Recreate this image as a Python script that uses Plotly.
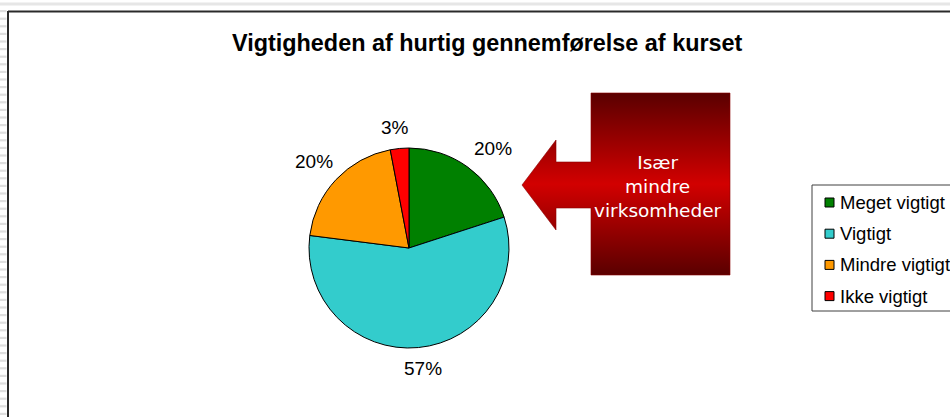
import math
import plotly.graph_objects as go

# ---- data ----
categories = ["Meget vigtigt", "Vigtigt", "Mindre vigtigt", "Ikke vigtigt"]
values = [20, 57, 20, 3]
colors = ["#008000", "#33CCCC", "#FF9900", "#FF0000"]
title_text = "Vigtigheden af hurtig gennemførelse af kurset"
callout_lines = ["Især", "mindre", "virksomheder"]

# ---- geometry (pixels) ----
W, H = 950, 417
CX, CY, R = 409, 248, 100

fig = go.Figure()

# callout arrow (decorative shape with vertical gradient)
arrow_x = [591, 730, 730, 591, 591, 556, 556, 522, 556, 556, 591, 591]
arrow_y = [93, 93, 275, 275, 208, 208, 230, 185, 140, 162, 162, 93]
fig.add_trace(go.Scatter(
    x=arrow_x, y=arrow_y, mode="lines", fill="toself",
    line=dict(color="#8a0000", width=0.6),
    fillgradient=dict(type="vertical",
                      colorscale=[[0, "#5a0000"], [0.5, "#d20000"], [1, "#5a0000"]]),
    hoverinfo="skip", showlegend=False))

# pie
fig.add_trace(go.Pie(
    labels=categories, values=values, sort=False, direction="clockwise", rotation=0,
    marker=dict(colors=colors, line=dict(color="black", width=1)),
    textinfo="none", showlegend=False, hoverinfo="label+percent",
    domain=dict(x=[(CX - R) / W, (CX + R) / W], y=[1 - (CY + R) / H, 1 - (CY - R) / H])))

annotations = []
shapes = []

# percentage labels outside slices
total = sum(values)
cum = 0
for v in values:
    mid = (cum + v / 2) / total * 2 * math.pi
    cum += v
    s, c = math.sin(mid), math.cos(mid)
    rr = R + 8
    px, py = CX + rr * s, CY - rr * c
    xa = "left" if s > 0.3 else ("right" if s < -0.3 else "center")
    ya = "bottom" if c > 0.3 else ("top" if c < -0.3 else "middle")
    if xa == "center":
        px += s * 40
    elif xa == "right":
        px += 5
    annotations.append(dict(x=px, y=py, xref="x", yref="y", text=f"{round(v / total * 100)}%",
                            showarrow=False, xanchor=xa, yanchor=ya,
                            font=dict(family="Liberation Sans, Arial", size=19, color="black")))

# title
annotations.append(dict(x=487, y=43, xref="x", yref="y", text=f"<b>{title_text}</b>",
                        showarrow=False, xanchor="center", yanchor="middle",
                        font=dict(family="Liberation Sans, Arial", size=23.4, color="black")))

# callout text
annotations.append(dict(x=658, y=186, xref="x", yref="y", text="<br>".join(callout_lines),
                        showarrow=False, xanchor="center", yanchor="middle",
                        font=dict(family="DejaVu Sans, Verdana", size=18.5, color="white")))

# manual legend
shapes.append(dict(type="rect", xref="x", yref="y", x0=812, x1=990, y0=185, y1=311,
                   line=dict(color="#404040", width=1), fillcolor="white", layer="below"))
for i, (lab, col) in enumerate(zip(categories, colors)):
    yc = 202.5 + i * 31.2
    shapes.append(dict(type="rect", xref="x", yref="y", x0=825, x1=834, y0=yc - 4.5, y1=yc + 4.5,
                       line=dict(color="black", width=1), fillcolor=col))
    annotations.append(dict(x=838, y=yc, xref="x", yref="y", text=lab, showarrow=False,
                            xanchor="left", yanchor="middle",
                            font=dict(family="Liberation Sans, Arial", size=18.5, color="black")))

# frame decorations
shapes.append(dict(type="rect", xref="x", yref="y", x0=0, x1=W, y0=2.5, y1=5.5,
                   line=dict(width=0), fillcolor="#e6e6e6", layer="below"))
y = 10.0
while y < H:
    shapes.append(dict(type="rect", xref="x", yref="y", x0=0, x1=6.5, y0=y, y1=y + 2.2,
                       line=dict(width=0), fillcolor="#dedede", layer="below"))
    y += 7.6
shapes.append(dict(type="line", xref="x", yref="y", x0=8, x1=W, y0=11.5, y1=11.5,
                   line=dict(color="#2a2a2a", width=2)))
shapes.append(dict(type="line", xref="x", yref="y", x0=8, x1=8, y0=11, y1=H,
                   line=dict(color="#2a2a2a", width=2)))

fig.update_layout(
    width=W, height=H, margin=dict(l=0, r=0, t=0, b=0, autoexpand=False),
    paper_bgcolor="white", plot_bgcolor="white",
    xaxis=dict(range=[0, W], visible=False, fixedrange=True),
    yaxis=dict(range=[H, 0], visible=False, fixedrange=True),
    showlegend=False, annotations=annotations, shapes=shapes,
)

fig.write_html("out.html", post_script="document.body.style.margin='0';",
               config={"displayModeBar": False})
